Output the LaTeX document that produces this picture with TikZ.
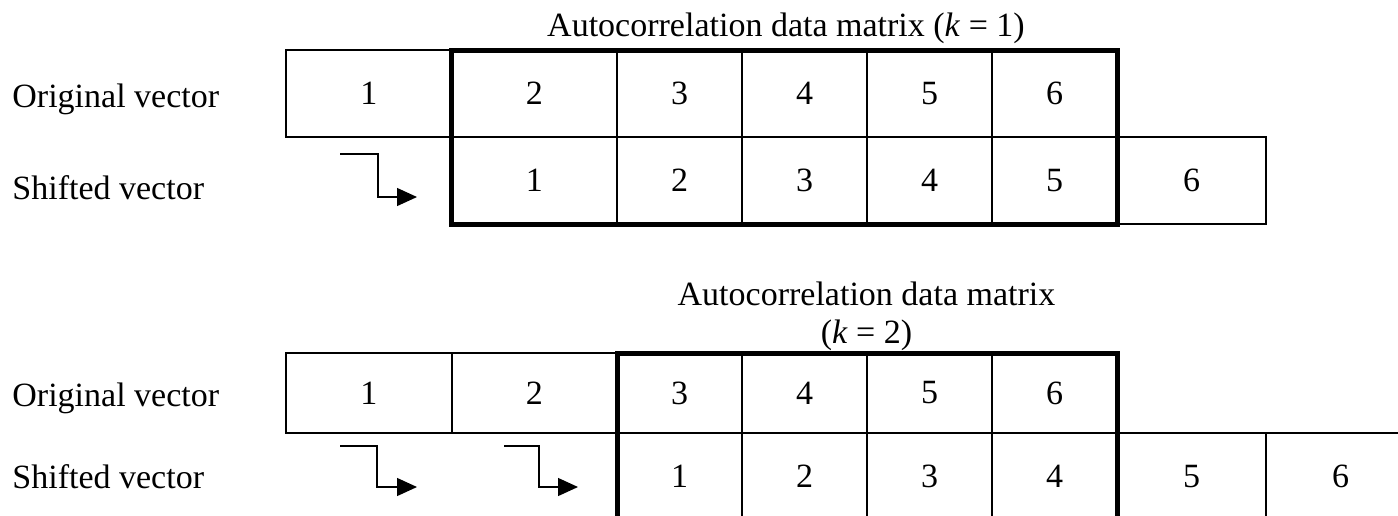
\documentclass[tikz,border=0pt]{standalone}
\usepackage{fontspec}
\setmainfont{Liberation Serif}
\usetikzlibrary{positioning,arrows.meta}
\tikzset{
  every node/.style={font=\fontsize{17}{19}\selectfont},
  cell/.style={draw, line width=1pt, inner sep=0pt, outer sep=0pt,
    minimum width=62.5pt, minimum height=43.5pt},
  first/.style={cell, minimum width=82.75pt},
  last/.style={cell, minimum width=74.5pt},
  lowrow/.style={minimum height=40pt},
  rowname/.style={anchor=base west, inner sep=0pt},
  heading/.style={inner sep=0pt, align=center},
  window/.style={line width=2.5pt},
  shiftarrow/.style={-{Triangle[length=10pt,width=9pt]}, line width=0.65pt}
}
\begin{document}
\begin{tikzpicture}[x=0.5pt, y=-0.5pt]
  \useasboundingbox (0,0) rectangle (1398,515);
  \clip (0,0) rectangle (1398,515);

  \node[heading, anchor=base] (T1) at (786,36) {Autocorrelation data matrix (\textit{k} = 1)};
  \node[rowname] (L1) at (12,107) {Original vector};
  \node[rowname] (L2) at (12,199) {Shifted vector};

  \node[first] (A1) at (368.75,93.5) {1};
  \node[first, right=0pt of A1] (A2) {2};
  \node[cell, right=0pt of A2] (A3) {3};
  \node[cell, right=0pt of A3] (A4) {4};
  \node[cell, right=0pt of A4] (A5) {5};
  \node[cell, right=0pt of A5] (A6) {6};

  \node[first, below=0pt of A2] (B1) {1};
  \node[cell, below=0pt of A3] (B2) {2};
  \node[cell, below=0pt of A4] (B3) {3};
  \node[cell, below=0pt of A5] (B4) {4};
  \node[cell, below=0pt of A6] (B5) {5};
  \node[last, right=0pt of B5] (B6) {6};

  \draw[window] (A2.north west) rectangle (B5.south east);
  \coordinate (P1) at (340,154);
  \coordinate (Q1) at (417,197);
  \draw[shiftarrow] (P1) -| ([xshift=-19.5pt]Q1) -- (Q1);

  \node[heading, anchor=south] (T2) at (866.5,351) {Autocorrelation data matrix\\(\textit{k} = 2)};
  \node[rowname] (L3) at (12,406) {Original vector};
  \node[rowname] (L4) at (12,488) {Shifted vector};

  \node[first, lowrow] (C1) at (368.75,393) {1};
  \node[first, lowrow, right=0pt of C1] (C2) {2};
  \node[cell, lowrow, right=0pt of C2] (C3) {3};
  \node[cell, lowrow, right=0pt of C3] (C4) {4};
  \node[cell, lowrow, right=0pt of C4] (C5) {5};
  \node[cell, lowrow, right=0pt of C5] (C6) {6};

  \node[cell, below=0pt of C3] (D1) {1};
  \node[cell, below=0pt of C4] (D2) {2};
  \node[cell, below=0pt of C5] (D3) {3};
  \node[cell, below=0pt of C6] (D4) {4};
  \node[last, right=0pt of D4] (D5) {5};
  \node[last, right=0pt of D5] (D6) {6};

  \draw[window] (C3.north west) rectangle (D4.south east);
  \coordinate (P2) at (340,446);
  \coordinate (Q2) at (417,487);
  \draw[shiftarrow] (P2) -| ([xshift=-20pt]Q2) -- (Q2);
  \coordinate (P3) at (504,446);
  \coordinate (Q3) at (578,487);
  \draw[shiftarrow] (P3) -| ([xshift=-19.5pt]Q3) -- (Q3);
\end{tikzpicture}
\end{document}
